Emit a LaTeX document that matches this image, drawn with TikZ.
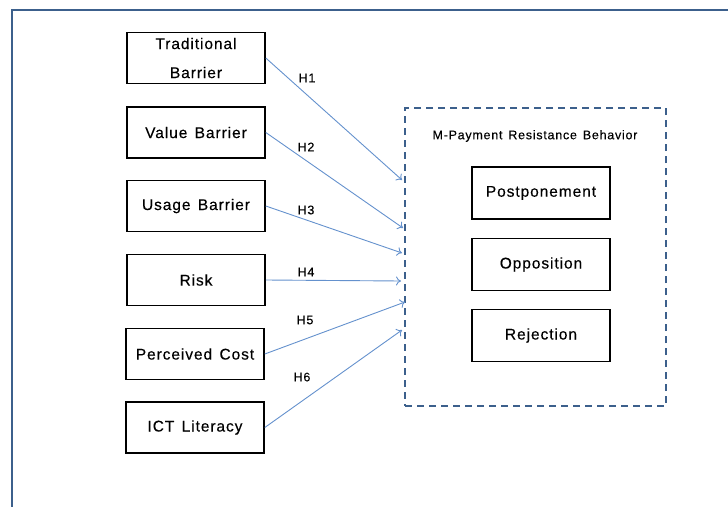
\documentclass[tikz,border=0pt]{standalone}
\usepackage{fontspec}
\setmainfont{Liberation Sans}
\newfontfamily\boxfont[LetterSpace=6,FakeBold=0.3,WordSpace=1.4]{Liberation Sans}
\usetikzlibrary{arrows.meta}
\definecolor{framec}{RGB}{60,96,140}
\definecolor{arrc}{RGB}{100,145,205}
\begin{document}
\begin{tikzpicture}[x=1pt,y=-1pt,
  fact/.style={draw=black,line width=1.6pt,minimum width=138pt,minimum height=51pt,inner sep=0pt,align=center,font=\boxfont\fontsize{15.5}{29}\selectfont},
  outc/.style={draw=black,line width=1.6pt,minimum width=138pt,minimum height=52pt,inner sep=0pt,font=\boxfont\fontsize{15.5}{18}\selectfont},
  hlab/.style={font=\boxfont\fontsize{12.5}{15}\selectfont,inner sep=0pt},
  arr/.style={draw=arrc,line width=0.9pt,-{To[length=5pt,width=9pt]}}]
\useasboundingbox (0,0) rectangle (728,506);
\clip (0,0) rectangle (728,506);
\draw[framec,line width=2.2pt] (12,520) -- (12,10) -- (740,10);
% factors
\node[fact] (tb) at (196,58) {Traditional\\Barrier};
\node[fact] (vb) at (196,132.5) {Value Barrier};
\node[fact] (ub) at (196,206) {Usage Barrier};
\node[fact] (rk) at (196,280) {Risk};
\node[fact] (pc) at (195,354) {Perceived Cost};
\node[fact] (ict) at (195,427.5) {ICT Literacy};
% dashed group
\node[draw=framec,line width=1.8pt,dash pattern=on 7pt off 5pt,minimum width=261pt,minimum height=298pt,inner sep=0pt] (grp) at (535.5,257) {};
\node[font=\boxfont\fontsize{12.5}{15}\selectfont] (title) at (535,136) {M-Payment Resistance Behavior};
\node[outc] (pp) at (541,193) {Postponement};
\node[outc] (op) at (541,264.5) {Opposition};
\node[outc] (rj) at (541,335.5) {Rejection};
% arrow end points
\coordinate (e1) at (402,180);
\coordinate (e2) at (403,228);
\coordinate (e3) at (402,253);
\coordinate (e4) at (401,281);
\coordinate (e5) at (405,302);
\coordinate (e6) at (402,330);
\draw[arr] (tb.east) -- (e1);
\draw[arr] (vb.east) -- (e2);
\draw[arr] (ub.east) -- (e3);
\draw[arr] (rk.east) -- (e4);
\draw[arr] (pc.east) -- (e5);
\draw[arr] (ict.east) -- (e6);
\node[hlab] (h1) at (307,78) {H1};
\node[hlab] (h2) at (306,147) {H2};
\node[hlab] (h3) at (306,210) {H3};
\node[hlab] (h4) at (306,272) {H4};
\node[hlab] (h5) at (305,320) {H5};
\node[hlab] (h6) at (302,377) {H6};
\end{tikzpicture}
\end{document}
